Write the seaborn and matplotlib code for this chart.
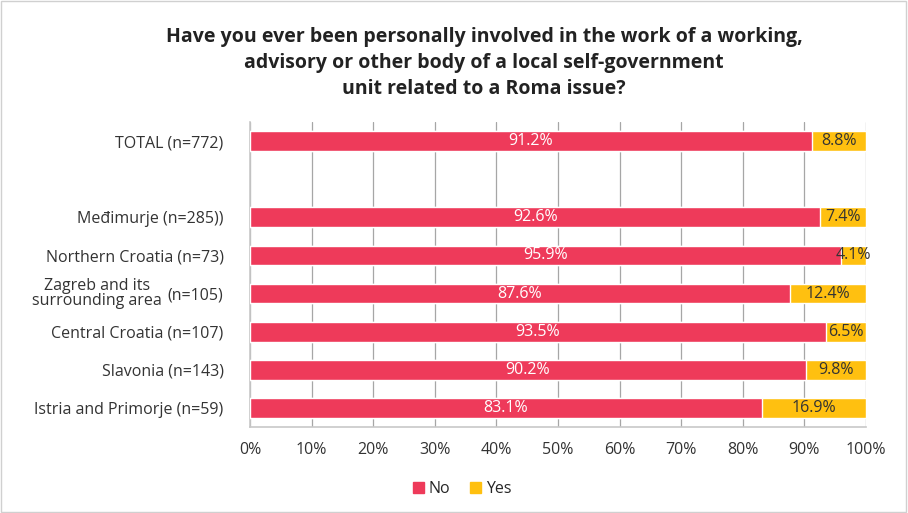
import pandas as pd
import numpy as np
import seaborn as sns
import matplotlib.pyplot as plt
from matplotlib.patches import Rectangle, Patch

# data
regions = ['TOTAL (n=772)', 'Međimurje (n=285))', 'Northern Croatia (n=73)',
           'Zagreb and its\nsurrounding area (n=105)', 'Central Croatia (n=107)',
           'Slavonia (n=143)', 'Istria and Primorje (n=59)']
no_vals = [91.2, 92.6, 95.9, 87.6, 93.5, 90.2, 83.1]
yes_vals = [8.8, 7.4, 4.1, 12.4, 6.5, 9.8, 16.9]
order = [regions[0], ' '] + regions[1:]

title = ('Have you ever been personally involved in the work of a working,\n'
         'advisory or other body of a local self-government\n'
         'unit related to a Roma issue?')

red = '#EE3A5A'
yellow = '#FFC010'
fs = 11.5

df = pd.DataFrame({'region': regions, 'No': no_vals, 'Yes': yes_vals})
df['total'] = df['No'] + df['Yes']

sns.set_theme(style='white')
plt.rcParams['font.family'] = ['Open Sans', 'DejaVu Sans']

fig = plt.figure(figsize=(9.08, 5.13), dpi=100)
ax = fig.add_axes([250/908, 1-427/513, 616/908, 305/513])

sns.barplot(data=df, x='total', y='region', order=order, orient='h',
            color=yellow, width=0.52, saturation=1, ax=ax, zorder=3)
sns.barplot(data=df, x='No', y='region', order=order, orient='h',
            color=red, width=0.52, saturation=1, ax=ax, zorder=3)

# value labels
for i, row in df.iterrows():
    y = order.index(row['region'])
    ax.text(row['No'] / 2, y, f"{row['No']:.1f}%", ha='center', va='center',
            color='white', fontsize=fs, zorder=4)
    ax.text(row['No'] + row['Yes'] / 2, y, f"{row['Yes']:.1f}%", ha='center',
            va='center', color='#333333', fontsize=fs, zorder=4)

ax.set_xlim(0, 100)
ax.set_xticks(np.arange(0, 101, 10))
ax.set_xticklabels([f'{v}%' for v in range(0, 101, 10)])
ax.xaxis.grid(True, color='#A6A6A6', linewidth=0.9, zorder=0)
ax.set_axisbelow(True)
ax.set_xlabel('')
ax.set_ylabel('')

# y labels: handle Zagreb separately
labels = [lbl if not lbl.startswith('Zagreb') else '(n=105)' for lbl in order]
ax.set_yticks(range(len(order)))
ax.set_yticklabels(labels)
zi = order.index(regions[3])
ax.text(-0.143, zi, 'Zagreb and its\nsurrounding area', ha='right', va='center',
        multialignment='center', fontsize=fs, color='#333333',
        transform=ax.get_yaxis_transform(), linespacing=0.95)

ax.tick_params(axis='y', length=0, pad=19, labelsize=fs, labelcolor='#333333')
ax.tick_params(axis='x', length=0, pad=11, labelsize=fs, labelcolor='#333333')

for s in ['top', 'right']:
    ax.spines[s].set_visible(False)
for s in ['left', 'bottom']:
    ax.spines[s].set_color('#C8C8C8')
    ax.spines[s].set_linewidth(1.2)

fig.text(484/908, 1-63/513, title, ha='center', va='center', fontsize=14,
         fontweight='bold', color='#222222', linespacing=1.42)

# legend
handles = [Patch(color=red, label='No'), Patch(color=yellow, label='Yes')]
fig.legend(handles=handles, loc='center', bbox_to_anchor=(462/908, 1-489/513),
           ncol=2, frameon=False, fontsize=fs, handlelength=0.7,
           handleheight=0.7, handletextpad=0.3, columnspacing=1.2)

fig.patches.append(Rectangle((0.001, 0.002), 0.997, 0.996, transform=fig.transFigure,
                             fill=False, edgecolor='#D0D0D0', linewidth=1))

fig.savefig('out.png', dpi=100)
